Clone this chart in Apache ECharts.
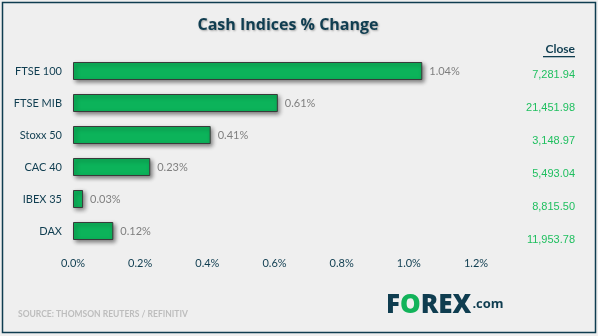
<!DOCTYPE html>
<html><head><meta charset="utf-8">
<script src="https://cdn.jsdelivr.net/npm/echarts@6/dist/echarts.min.js"></script>
<style>html,body{margin:0;padding:0;background:#efefef}#c{width:598px;height:336px}</style>
</head><body><div id="c"></div>
<script>
const categories = ['FTSE 100','FTSE MIB','Stoxx 50','CAC 40','IBEX 35','DAX'];
const changes = [1.04, 0.61, 0.41, 0.23, 0.03, 0.12];
const closeValues = ['7,281.94','21,451.98','3,148.97','5,493.04','8,815.50','11,953.78'];
const xTicks = [0, 0.2, 0.4, 0.6, 0.8, 1.0, 1.2];

const teal = '#0f3d50';
const chart = echarts.init(document.getElementById('c'));
chart.setOption({
  backgroundColor: '#efefef',
  animation: false,
  title: {
    text: 'Cash Indices % Change', left: 283, top: 12, textAlign: 'center',
    textStyle: { fontFamily: 'Open Sans', fontWeight: 'bold', fontSize: 16, color: teal,
      textShadowColor: 'rgba(0,0,0,0.3)', textShadowBlur: 2, textShadowOffsetX: 1, textShadowOffsetY: 1 }
  },
  grid: [
    { left: 73, right: 122, top: 55, height: 192 },
    { left: 583, width: 1, top: 58, height: 199 }
  ],
  xAxis: [
    { type: 'value', gridIndex: 0, min: 0, max: 1.2, interval: 0.2,
      axisLine: { show: false }, axisTick: { show: false }, splitLine: { show: false },
      axisLabel: { margin: 11, color: teal, fontFamily: 'Lato', fontSize: 11,
        formatter: v => v.toFixed(1) + '%' } },
    { type: 'value', gridIndex: 1, show: false }
  ],
  yAxis: [
    { type: 'category', gridIndex: 0, data: categories, inverse: true,
      axisLine: { show: false }, axisTick: { show: false },
      axisLabel: { margin: 11, color: teal, fontFamily: 'Lato', fontSize: 11 } },
    { type: 'category', gridIndex: 1, data: closeValues, inverse: true,
      axisLine: { show: false }, axisTick: { show: false },
      axisLabel: { margin: 8, color: '#1fbf5f', fontFamily: 'Liberation Sans', fontSize: 11 } }
  ],
  series: [{
    type: 'bar', xAxisIndex: 0, yAxisIndex: 0, data: changes, barWidth: 18,
    itemStyle: { color: '#0cb35a', borderColor: '#3a3a3a', borderWidth: 1,
      shadowColor: 'rgba(0,0,0,0.45)', shadowBlur: 4, shadowOffsetX: 2, shadowOffsetY: 2 },
    label: { show: true, position: 'right', distance: 7, color: '#7f7f7f', fontFamily: 'Lato', fontSize: 11,
      formatter: p => p.value.toFixed(2) + '%' }
  }],
  graphic: [
    { type: 'rect', shape: { x: 2.5, y: 2.5, width: 593, height: 330 }, style: { fill: null, stroke: teal, lineWidth: 1.5 }, z: 10 },
    { type: 'text', x: 575, y: 49, style: { text: 'Close', align: 'right', verticalAlign: 'middle',
      fill: teal, font: 'bold 12px Lato' } },
    { type: 'rect', shape: { x: 543, y: 56, width: 32, height: 1.3 }, style: { fill: teal } },
    { type: 'text', x: 18, y: 314, style: { text: 'SOURCE: THOMSON REUTERS / REFINITIV', verticalAlign: 'middle',
      fill: '#bdbdbd', font: 'bold 8.5px Lato' } },
    { type: 'text', x: 386, y: 306, style: { verticalAlign: 'middle',
      text: '{a|F}{b|O}{a|REX}{c|.com}',
      rich: {
        a: { fontFamily: 'Open Sans', fontWeight: 900, fontSize: 26, fill: teal },
        b: { fontFamily: 'Open Sans', fontWeight: 900, fontSize: 26, fill: '#12b35a' },
        c: { fontFamily: 'Open Sans', fontWeight: 'bold', fontSize: 13, fill: teal, verticalAlign: 'middle', padding: [0,0,4,1] }
      } } }
  ]
});
</script></body></html>
